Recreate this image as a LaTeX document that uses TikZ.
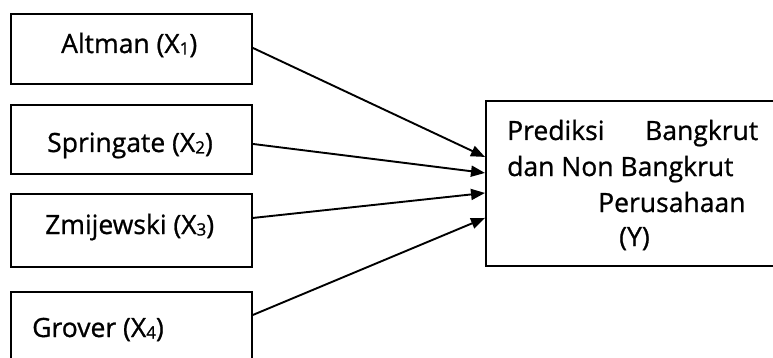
\documentclass[tikz,border=0pt]{standalone}
\usepackage{fontspec}
\setmainfont{Open Sans}
\newfontfamily\labelfont{Open Sans}[FakeBold=0.9]
\usetikzlibrary{arrows.meta}
% small subscript digit sitting close to the baseline
\newcommand\subdig[1]{\raisebox{-1.5pt}{\fontsize{17}{17}\selectfont #1}}
\begin{document}
\begin{tikzpicture}[x=1pt,y=-1pt,
  box/.style={draw,line width=1.9pt,anchor=north west,inner sep=0pt,
    minimum width=241pt},
  bigbox/.style={draw,line width=1.9pt,anchor=north west,inner sep=0pt},
  lbl/.style={anchor=base west,inner sep=0pt,font=\labelfont\fontsize{26.5}{30}\selectfont},
  arr/.style={line width=1.9pt,-{Triangle[length=14pt,width=11pt]}}]
\useasboundingbox (0,0) rectangle (773,358);
\clip (0,0) rectangle (773,358);
% predictor boxes
\node[box,minimum height=70pt] (b1) at (10,13) {};
\node[box,minimum height=69pt] (b2) at (10,104) {};
\node[box,minimum height=73pt] (b3) at (10,193) {};
\node[box,minimum height=100pt] (b4) at (10,291) {};
% outcome box
\node[bigbox,minimum width=310pt,minimum height=165pt] (y) at (485,100) {};
% labels
\node[lbl] (t1) at (61,53) {Altman (X\subdig{1})};
\node[lbl] (t2) at (47,152) {Springate (X\subdig{2})};
\node[lbl] (t3) at (45,234) {Zmijewski (X\subdig{3})};
\node[lbl] (t4) at (32,337) {Grover (X\subdig{4})};
\node[lbl] (l1) at (507,140) {\makebox[251pt][s]{Prediksi\hfill Bangkrut}};
\node[lbl] (l2) at (507,176) {dan Non Bangkrut};
\node[lbl] (l3) at (598,212) {Perusahaan};
\node[lbl] (l4) at (619,246) {(Y)};
% arrows
\draw[arr] ([yshift=1pt]b1.east) -- ([yshift=26.5pt]y.west);
\draw[arr] ([yshift=-4.5pt]b2.east) -- ([yshift=10.5pt]y.west);
\draw[arr] ([yshift=12.5pt]b3.east) -- ([yshift=-9.5pt]y.west);
\draw[arr] ([yshift=27pt]b4.east) -- ([yshift=-34.5pt]y.west);
\end{tikzpicture}
\end{document}
